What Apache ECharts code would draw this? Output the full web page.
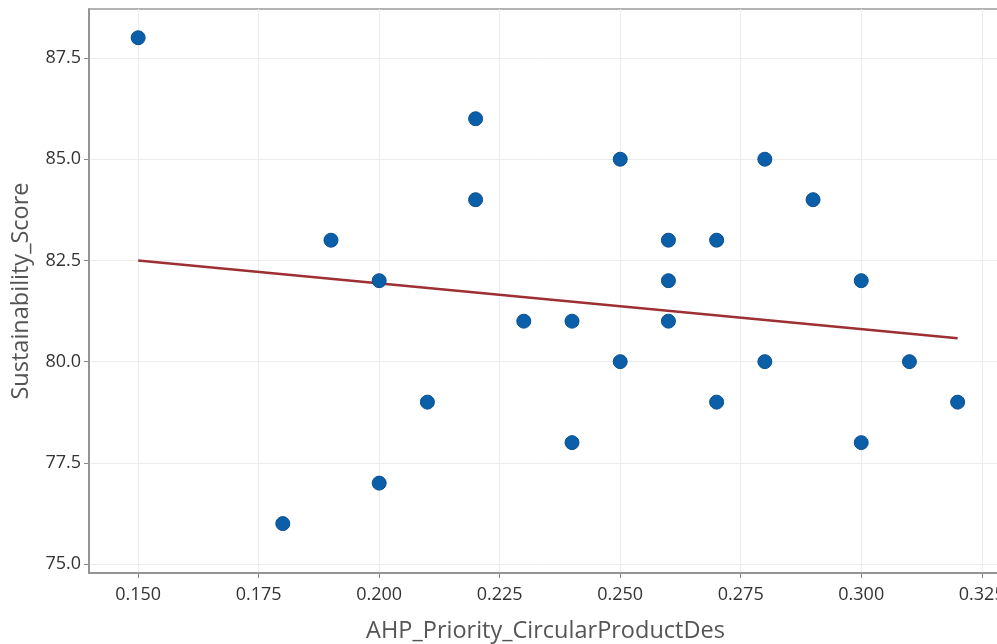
<!DOCTYPE html>
<html>
<head>
<meta charset="utf-8">
<script src="https://cdn.jsdelivr.net/npm/echarts@6/dist/echarts.min.js"></script>
<style>
  html, body { margin: 0; padding: 0; background: #fff; }
  #chart { width: 997px; height: 644px; }
</style>
</head>
<body>
<div id="chart"></div>
<script>
// points
const priority = [0.15, 0.18, 0.19, 0.20, 0.20, 0.21, 0.22, 0.22, 0.23, 0.24, 0.24, 0.25, 0.25,
  0.26, 0.26, 0.26, 0.27, 0.27, 0.28, 0.28, 0.29, 0.30, 0.30, 0.31, 0.32]
const score = [88, 76, 83, 82, 77, 79, 86, 84, 81, 81, 78, 85, 80,
  83, 82, 81, 83, 79, 85, 80, 84, 82, 78, 80, 79]
// fitted line ends
const fitX = [0.15, 0.32]
const fitY = [82.5, 80.58]
const xTicks = [0.150, 0.175, 0.200, 0.225, 0.250, 0.275, 0.300, 0.325]
const yTicks = [75.0, 77.5, 80.0, 82.5, 85.0, 87.5]

const chart = echarts.init(document.getElementById('chart'))
const font = '"Open Sans", "Noto Sans", sans-serif'

chart.setOption({
  animation: false,
  grid: {
    left: 89,
    right: -5, // plot runs off the right edge of the picture
    top: 9,
    bottom: 71,
    containLabel: false,
    outerBoundsMode: 'none',
    show: true,
    borderColor: '#9a9a9a',
    borderWidth: 1.5
  },
  xAxis: {
    type: 'value',
    min: 0.1398,
    max: 0.3292,
    name: 'AHP_Priority_CircularProductDes',
    nameLocation: 'middle',
    nameGap: 46,
    nameTextStyle: { fontFamily: font, fontSize: 23.5, color: '#555' },
    axisLine: { show: true, lineStyle: { color: '#8a8a8a', width: 1.5 } },
    axisTick: { show: true, length: 5, customValues: xTicks, lineStyle: { color: '#8a8a8a' } },
    axisLabel: {
      customValues: xTicks,
      formatter: v => v.toFixed(3),
      fontFamily: font, fontSize: 18, color: '#333', margin: 13
    },
    splitLine: { show: true, lineStyle: { color: '#ececec' } }
  },
  yAxis: {
    type: 'value',
    min: 74.78,
    max: 88.71,
    name: 'Sustainability_Score',
    nameLocation: 'middle',
    nameGap: 56,
    nameTextStyle: { fontFamily: font, fontSize: 23.5, color: '#555' },
    axisLine: { show: true, lineStyle: { color: '#8a8a8a', width: 1.5 } },
    axisTick: { show: true, length: 5, customValues: yTicks, lineStyle: { color: '#8a8a8a' } },
    axisLabel: {
      customValues: yTicks,
      formatter: v => v.toFixed(1),
      fontFamily: font, fontSize: 18, color: '#333', margin: 8
    },
    splitLine: { show: true, lineStyle: { color: '#ececec' } }
  },
  series: [
    {
      type: 'line',
      data: fitX.map((x, i) => [x, fitY[i]]),
      symbol: 'none',
      lineStyle: { color: '#9e2f33', width: 2.5 },
      z: 2
    },
    {
      type: 'scatter',
      data: priority.map((x, i) => [x, score[i]]),
      symbolSize: 14,
      itemStyle: { color: '#0b5fa8', borderColor: '#0a4f8e', borderWidth: 1, opacity: 1 },
      z: 3
    }
  ]
})
</script>
</body>
</html>
